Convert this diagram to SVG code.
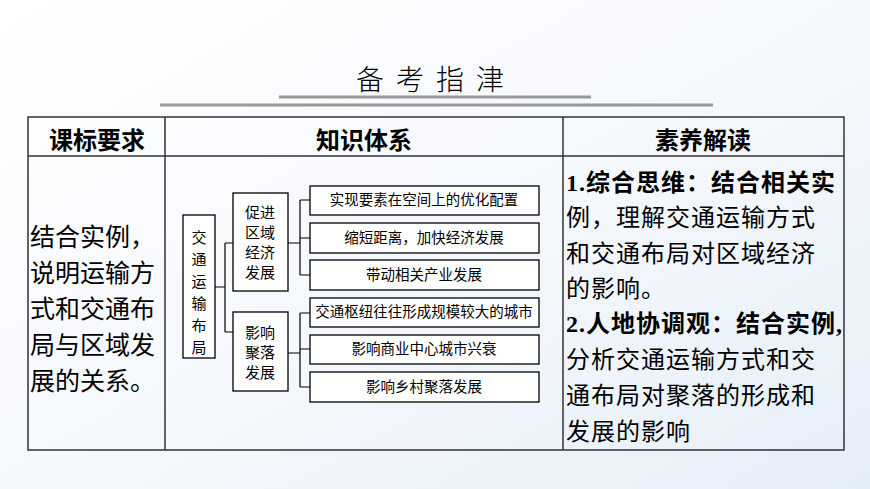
<svg xmlns="http://www.w3.org/2000/svg" width="870" height="489" viewBox="0 0 870 489">
<style>
text{font-family:"Liberation Serif","Noto Sans CJK SC",serif;fill:#000}
.b{font-weight:bold}
.h{font-size:24px;font-weight:bold;text-anchor:middle}
.t{font-size:24px;letter-spacing:1px}
.l{font-size:25px}
.n{fill:#fff;stroke:#000;stroke-width:1.3}
.s{font-size:14.5px;text-anchor:middle}
.m{font-size:15px;text-anchor:middle}
.c{fill:none;stroke:#000;stroke-width:1.2}
</style>
<defs><linearGradient id="bg" x1="0" y1="0" x2="1" y2="1"><stop offset="0" stop-color="#fff"/><stop offset="0.6" stop-color="#f3f7fc"/><stop offset="1" stop-color="#e4eef8"/></linearGradient></defs>
<rect width="870" height="489" fill="url(#bg)"/>
<text x="436" y="90" font-size="28" text-anchor="middle" letter-spacing="12" style="font-family:'Noto Sans CJK SC',sans-serif;font-weight:300">备考指津</text>
<line x1="279" y1="97" x2="591" y2="97" stroke="#999" stroke-width="3"/>
<line x1="160" y1="105" x2="713" y2="105" stroke="#999" stroke-width="3"/>
<g id="table" fill="none" stroke="#333" stroke-width="1.5">
<rect x="28" y="117" width="816" height="333"/>
<line x1="28" y1="156" x2="844" y2="156"/>
<line x1="165" y1="117" x2="165" y2="450"/>
<line x1="563" y1="117" x2="563" y2="450"/>
</g>
<text class="h" x="97" y="149">课标要求</text>
<text class="h" x="364" y="149">知识体系</text>
<text class="h" x="703" y="149">素养解读</text>
<g>
<text x="30" y="246" class="l">结合实例，</text>
<text x="30" y="282" class="l">说明运输方</text>
<text x="30" y="318" class="l">式和交通布</text>
<text x="30" y="354" class="l">局与区域发</text>
<text x="30" y="390" class="l">展的关系。</text>
</g>
<g>
<text x="566" y="191" class="t b">1.综合思维：结合相关实</text>
<text x="566" y="226" class="t">例，理解交通运输方式</text>
<text x="566" y="262" class="t">和交通布局对区域经济</text>
<text x="566" y="297" class="t">的影响。</text>
<text x="566" y="332" class="t b">2.人地协调观：结合实例,</text>
<text x="566" y="368" class="t">分析交通运输方式和交</text>
<text x="566" y="404" class="t">通布局对聚落的形成和</text>
<text x="566" y="440" class="t">发展的影响</text>
</g>
<g id="connectors">
<path class="c" d="M215 287H225M225 243V332M225 243H233M225 332H233"/>
<path class="c" d="M288 243H300M300 200V275M300 200H310M300 238H310M300 275H310"/>
<path class="c" d="M288 353H300M300 313V387M300 313H310M300 349H310M300 387H310"/>
</g>
<g id="root"><rect class="n" x="183" y="215" width="32" height="143"/>
<text class="m" x="199" y="243">交</text><text class="m" x="199" y="265">通</text><text class="m" x="199" y="287">运</text><text class="m" x="199" y="309">输</text><text class="m" x="199" y="331">布</text><text class="m" x="199" y="353">局</text></g>
<g id="econ"><rect class="n" x="233" y="193" width="55" height="98"/>
<text class="m" x="260" y="218">促进</text><text class="m" x="260" y="238">区域</text><text class="m" x="260" y="258">经济</text><text class="m" x="260" y="278">发展</text></g>
<g id="settle"><rect class="n" x="233" y="312" width="55" height="79"/>
<text class="m" x="260" y="338">影响</text><text class="m" x="260" y="358">聚落</text><text class="m" x="260" y="378">发展</text></g>
<g id="r1"><rect class="n" x="310" y="186" width="229" height="29"/><text class="s" x="424" y="205">实现要素在空间上的优化配置</text></g>
<g id="r2"><rect class="n" x="310" y="223" width="229" height="30"/><text class="s" x="424" y="243">缩短距离，加快经济发展</text></g>
<g id="r3"><rect class="n" x="310" y="260" width="229" height="30"/><text class="s" x="424" y="280">带动相关产业发展</text></g>
<g id="r4"><rect class="n" x="310" y="298" width="229" height="29"/><text class="s" x="424" y="317">交通枢纽往往形成规模较大的城市</text></g>
<g id="r5"><rect class="n" x="310" y="335" width="229" height="29"/><text class="s" x="424" y="354">影响商业中心城市兴衰</text></g>
<g id="r6"><rect class="n" x="310" y="372" width="229" height="30"/><text class="s" x="424" y="392">影响乡村聚落发展</text></g>
</svg>
